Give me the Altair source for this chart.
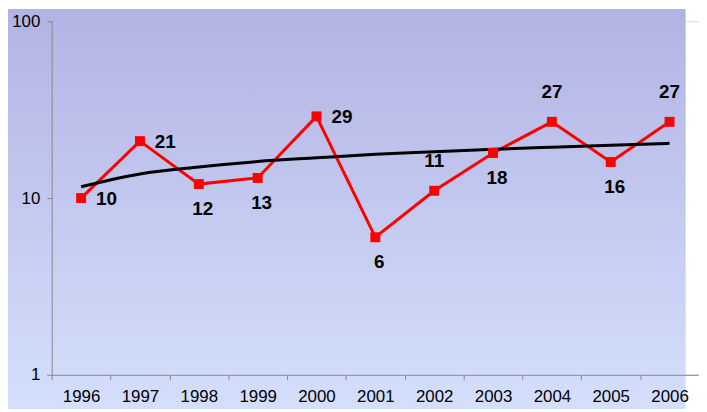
import altair as alt
import pandas as pd

years = ["1996", "1997", "1998", "1999", "2000", "2001", "2002", "2003", "2004", "2005", "2006"]
values = [10, 21, 12, 13, 29, 6, 11, 18, 27, 16, 27]
trend = [11.6, 13.7, 15.0, 16.1, 16.9, 17.7, 18.3, 18.9, 19.4, 19.9, 20.4]
label_side = ["right", "right", "below", "below", "right", "below", "above", "below", "above", "below", "above"]
y_ticks = [1, 10, 100]

df = pd.DataFrame({"year": years, "value": values, "trend": trend, "side": label_side})

W, H = 652, 356
FONT = "Liberation Sans"

x_enc = alt.X(
    "year:N",
    sort=years,
    scale=alt.Scale(type="band", paddingInner=0, paddingOuter=0),
    axis=alt.Axis(title=None, tickBand="extent", labelAngle=0, tickSize=5,
                  labelPadding=9, labelFontSize=17, zindex=1),
)
y_scale = alt.Scale(type="log", domain=[1, 100], nice=False)
y_enc = alt.Y(
    "value:Q",
    scale=y_scale,
    axis=alt.Axis(title=None, values=y_ticks, format="d", tickSize=5,
                  labelPadding=7, labelFontSize=17, grid=False, zindex=1),
)

base = alt.Chart(df)

bg = base.mark_rect(
    fill=alt.Gradient(
        gradient="linear", x1=0, y1=0, x2=0, y2=1,
        stops=[alt.GradientStop(color="#B2B3E3", offset=0),
               alt.GradientStop(color="#D4DFFC", offset=1)],
    ),
).encode(x=alt.value(-44), x2=alt.value(638), y=alt.value(-12), y2=alt.value(H + 34))

red_line = base.mark_line(color="#FF0000", strokeWidth=3).encode(x=x_enc, y=y_enc)
trend_line = base.mark_line(color="#000000", strokeWidth=3, interpolate="monotone").encode(
    x=x_enc, y=alt.Y("trend:Q", scale=y_scale))
pts = base.mark_square(color="#FF0000", size=100, opacity=1, filled=True).encode(x=x_enc, y=y_enc)

txt_kw = dict(font=FONT, fontSize=19, fontWeight="bold", color="#000000", baseline="middle")
t_right = base.transform_filter(alt.datum.side == "right").mark_text(
    align="left", dx=15, dy=1, **txt_kw).encode(x=x_enc, y=y_enc, text="value:Q")
t_below = base.transform_filter(alt.datum.side == "below").mark_text(
    align="center", dx=4, dy=25, **txt_kw).encode(x=x_enc, y=y_enc, text="value:Q")
t_above = base.transform_filter(alt.datum.side == "above").mark_text(
    align="center", dx=0, dy=-30, **txt_kw).encode(x=x_enc, y=y_enc, text="value:Q")

chart = alt.layer(bg, red_line, trend_line, pts, t_right, t_below, t_above).properties(
    width=W, height=H,
    autosize=alt.AutoSizeParams(type="none"),
    padding={"left": 44, "top": 12, "right": 0, "bottom": 34},
).configure_view(stroke=None).configure_axis(
    domainColor="#404040", tickColor="#404040", labelColor="#000000", labelFont=FONT,
    domainWidth=1.5, tickWidth=1.5,
).configure(background="#FFFFFF")

chart.save("out.html", embed_options={"renderer": "svg", "actions": False})
